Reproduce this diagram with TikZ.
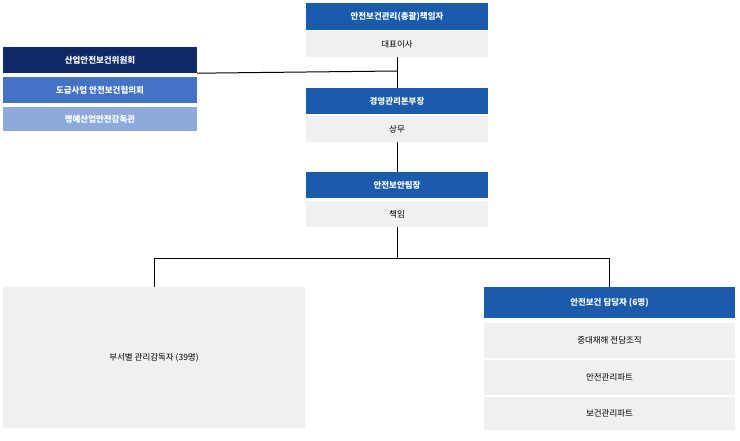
\documentclass[tikz,border=0pt]{standalone}
\usepackage{fontspec}
\setmainfont{Noto Sans CJK KR}
\begin{document}
\begin{tikzpicture}[x=1pt,y=-1pt,
  hdr/.style={fill=hblue,text=white,font=\fontsize{8.5}{10}\selectfont\bfseries,inner sep=0pt},
  gry/.style={fill=gbg,text=black,font=\fontsize{8.5}{10}\selectfont,inner sep=0pt},
  ln/.style={line width=1pt,black}]
\definecolor{hblue}{HTML}{1A5CAB}
\definecolor{navy}{HTML}{0F2A6B}
\definecolor{mblue}{HTML}{4472C4}
\definecolor{lblue}{HTML}{8EA9DB}
\definecolor{gbg}{HTML}{F0F0F0}
\useasboundingbox (0,0) rectangle (740,440);
% top chain
\node[hdr,minimum width=182pt,minimum height=27pt] (h1) at (397,16.5) {안전보건관리(총괄)책임자};
\node[gry,minimum width=182pt,minimum height=26pt] (g1) at (397,44) {대표이사};
\node[hdr,minimum width=182pt,minimum height=26pt] (h2) at (397,101) {경영관리본부장};
\node[gry,minimum width=182pt,minimum height=26pt] (g2) at (397,129) {상무};
\node[hdr,minimum width=182pt,minimum height=26pt] (h3) at (397,185) {안전보안팀장};
\node[gry,minimum width=182pt,minimum height=26pt] (g3) at (397,214) {책임};
% left stack
\node[fill=navy,text=white,font=\fontsize{8.5}{10}\selectfont\bfseries,minimum width=194pt,minimum height=26pt,inner sep=0pt] (l1) at (100,60) {산업안전보건위원회};
\node[fill=mblue,text=white,font=\fontsize{8.5}{10}\selectfont\bfseries,minimum width=194pt,minimum height=26pt,inner sep=0pt] (l2) at (100,90) {도급사업 안전보건협의회};
\node[fill=lblue,text=white,font=\fontsize{8.5}{10}\selectfont\bfseries,minimum width=194pt,minimum height=24pt,inner sep=0pt] (l3) at (100,119) {명예산업안전감독관};
% bottom
\node[gry,minimum width=302pt,minimum height=141pt] (big) at (154,357.5) {부서별 관리감독자 (39명)};
\node[hdr,minimum width=251pt,minimum height=31pt] (h4) at (609.5,302.5) {안전보건 담당자 (6명)};
\node[gry,minimum width=251pt,minimum height=35pt] (r1) at (609.5,340.5) {중대재해 전담조직};
\node[gry,minimum width=251pt,minimum height=35pt] (r2) at (609.5,377.5) {안전관리파트};
\node[gry,minimum width=251pt,minimum height=33pt] (r3) at (609.5,413.5) {보건관리파트};
% connectors
\coordinate (j1) at (397,71);
\coordinate (j2) at (397,258);
\draw[ln] (g1.south) -- (h2.north);
\draw[ln] (l1.south east) -- (j1);
\draw[ln] (g2.south) -- (h3.north);
\draw[ln] (g3.south) -- (j2);
\draw[ln] (big.north) -- (big.north|-j2) -- (h4.north|-j2) -- (h4.north);
\end{tikzpicture}
\end{document}
